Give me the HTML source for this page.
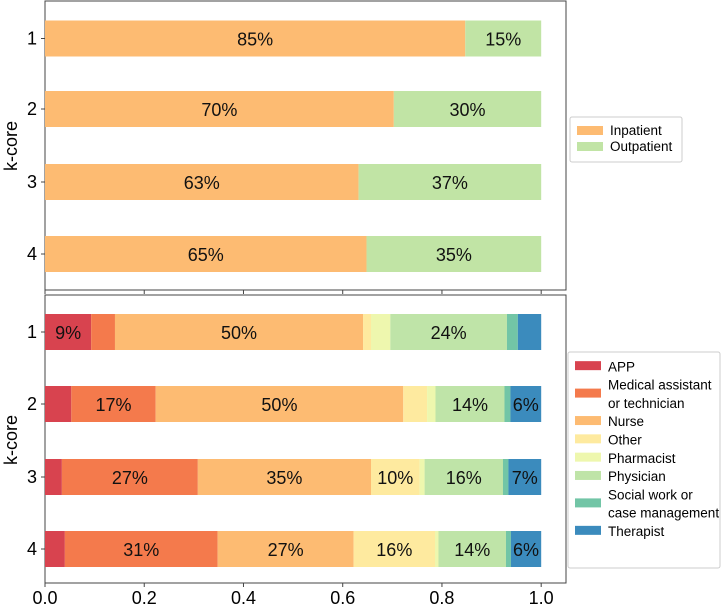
<!DOCTYPE html>
<html><head><meta charset="utf-8"><style>
body{margin:0;background:#fff;font-family:"Liberation Sans",Arial,sans-serif}
svg text{font-family:"Liberation Sans",Arial,sans-serif}
</style></head><body>
<svg id="chart" width="724" height="608" viewBox="0 0 724 608" xmlns="http://www.w3.org/2000/svg">
<g id="top"></g>
<g id="bot"></g>
<g id="axis"></g>
<text x="0" y="0" transform="translate(17,146) rotate(-90)" text-anchor="middle" font-size="18">k-core</text>
<text x="0" y="0" transform="translate(17,440) rotate(-90)" text-anchor="middle" font-size="18">k-core</text>
</svg>
<script>
const categories = ['1','2','3','4'];
const topSeriesNames = ['Inpatient','Outpatient'];
const inpatient = [0.847,0.703,0.632,0.648];
const outpatient = [0.153,0.297,0.368,0.352];
const roleNames = ['APP','Medical assistant|or technician','Nurse','Other','Pharmacist','Physician','Social work or|case management','Therapist'];
const app = [0.093,0.053,0.034,0.04];
const medAssist = [0.048,0.170,0.274,0.308];
const nurse = [0.50,0.499,0.349,0.274];
const other = [0.016,0.048,0.098,0.164];
const pharmacist = [0.039,0.017,0.010,0.007];
const physician = [0.235,0.139,0.158,0.136];
const socialWork = [0.022,0.012,0.011,0.010];
const therapist = [0.047,0.062,0.066,0.061];
const xTicks = [0,0.2,0.4,0.6,0.8,1.0];
const xTickLabels = ['0.0','0.2','0.4','0.6','0.8','1.0'];

const NS='http://www.w3.org/2000/svg';
const X0=45, X1=566, XMAX=1.05;
const xs=v=>X0+v/XMAX*(X1-X0);
function el(tag,attrs,parent){const e=document.createElementNS(NS,tag);for(const k in attrs)e.setAttribute(k,attrs[k]);parent.appendChild(e);return e;}
const colors=['#d8434f','#f47a4c','#fdbb72','#feea9f','#eef7ae','#bfe4a8','#72c5a6','#3b8bbd'];
const topColors=['#fdbb72','#c1e4a5'];

function panel(g,yTop,yBot,centers,series,cols,names,minLab){
  const f=el('rect',{x:X0,y:yTop,width:X1-X0,height:yBot-yTop,fill:'none',stroke:'#444','stroke-width':1},g);
  
  categories.forEach((c,i)=>{
    const cy=centers[i];
    const t=el('text',{x:X0-8,y:cy+6,'text-anchor':'end','font-size':18},g);t.textContent=c;
    
    el('line',{x1:X0-4,x2:X0,y1:cy,y2:cy,stroke:'#444'},g);
    let acc=0;
    series.forEach((s,j)=>{
      const v=s[i];const x=xs(acc),w=xs(acc+v)-x;
      const r=el('rect',{x:x,y:cy-18,width:w,height:36,fill:cols[j]},g);
      
      
      if(v>=minLab){const lt=el('text',{x:x+w/2,y:cy+7,'text-anchor':'middle','font-size':18,fill:'#111'},g);
        lt.textContent=Math.round(v*100)+'%';
        }
      acc+=v;
    });
  });
}
panel(document.getElementById('top'),1,290,[38.5,109,182,254],[inpatient,outpatient],topColors,topSeriesNames,0.05);
panel(document.getElementById('bot'),295,583,[332,404,477,549],[app,medAssist,nurse,other,pharmacist,physician,socialWork,therapist],colors,roleNames,0.055);

const ax=document.getElementById('axis');
xTicks.forEach((v,i)=>{
  const x=xs(v);
  el('line',{x1:x,x2:x,y1:583,y2:587,stroke:'#444'},ax);
  el('line',{x1:x,x2:x,y1:290,y2:294,stroke:'#444'},ax);
  const t=el('text',{x:x,y:604,'text-anchor':'middle','font-size':18},ax);t.textContent=xTickLabels[i];
  
});

function legend(x,y,w,h,names,cols,rowH,top){
  const g=el('g',{},document.getElementById('chart'));
  
  el('rect',{x:x,y:y,width:w,height:h,fill:'#fff',stroke:'#ccc',rx:2},g);
  let cy=y+top;
  names.forEach((n,j)=>{
    const lines=n.split('|');
    const hh=lines.length*rowH;
    const e=el('g',{},g);
    
    el('rect',{x:x+7,y:cy+hh/2-5,width:26,height:9,fill:cols[j]},e);
    lines.forEach((l,k)=>{const t=el('text',{x:x+40,y:cy+k*rowH+rowH-4,'font-size':13.5},e);t.textContent=l;});
    cy+=hh;
  });
}
legend(570,117,112,45,topSeriesNames,topColors,16,6);
legend(568,352,152,216,roleNames,colors,18.3,5);
</script>
</body></html>
